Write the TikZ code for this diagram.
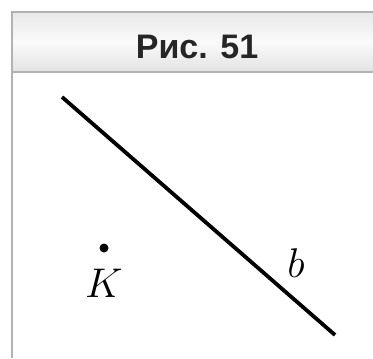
\documentclass[tikz,border=0pt]{standalone}
\usepackage{fontspec}
\newfontfamily\headfont{Liberation Sans}
\usetikzlibrary{positioning}

\begin{document}
\begin{tikzpicture}[
    x=0.5pt, y=-0.5pt,
    frame/.style={draw=gray!60, line width=1pt},
    title/.style={font=\headfont\bfseries\fontsize{17}{20}\selectfont, text=black!85},
    label/.style={font=\fontsize{20}{24}\selectfont},
    point/.style={circle, fill=black, inner sep=0pt, minimum size=4.5pt}
  ]
    \useasboundingbox (0,0) rectangle (373,358);

    % header band
    \shade[top color=gray!18, bottom color=gray!22, middle color=gray!4]
      (12,12) rectangle (373,72);
    \draw[frame] (373,12) -- (12,12) -- (12,358);
    \draw[frame] (12,72) -- (373,72);
    \node[title] (head) at (197,47) {Рис. 51};

    % line b and point K
    \coordinate (b1) at (62,97);
    \coordinate (b2) at (335,335);
    \draw[line width=1.9pt] (b1) -- (b2);
    \node[label] (blab) at (296,263) {$b$};

    \node[point] (K) at (104,248) {};
    \node[label, below=4.5pt of K] (Klab) {$K$};
  \end{tikzpicture}
\end{document}
